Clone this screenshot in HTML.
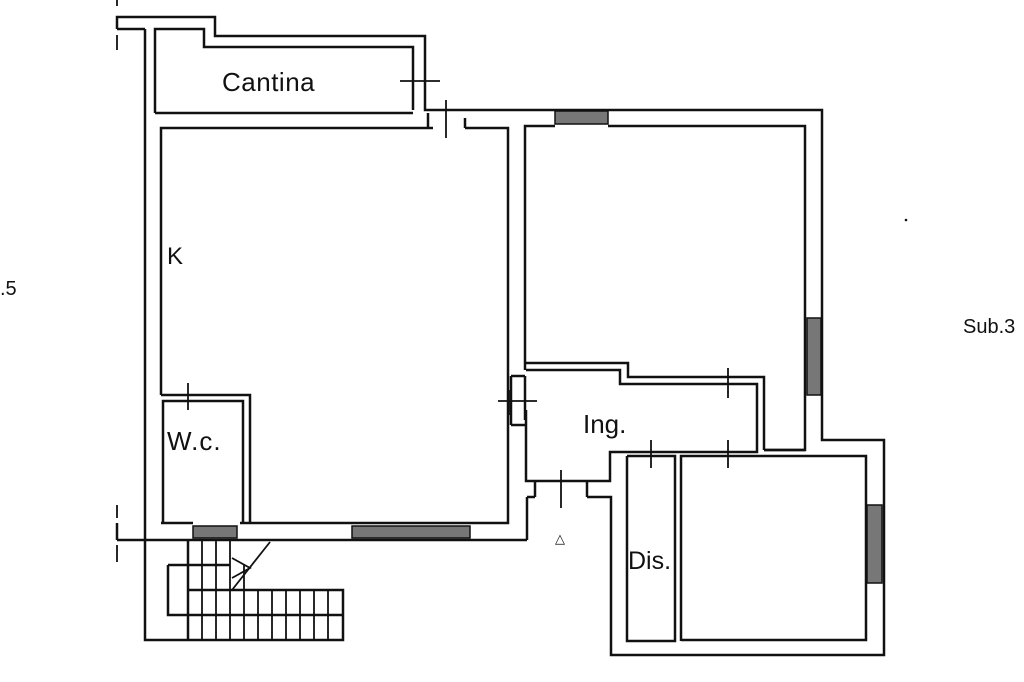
<!DOCTYPE html>
<html><head><meta charset="utf-8"><style>
html,body{margin:0;padding:0;background:#fff;width:1024px;height:682px;overflow:hidden}
svg{display:block}
text{font-family:"Liberation Sans",sans-serif;fill:#111}
</style></head><body>
<svg width="1024" height="682" viewBox="0 0 1024 682">
<g fill="none" stroke="#111" stroke-width="2.5" stroke-linejoin="miter">
<polyline points="117,29 117,17 215,17 215,36 425,36 425,110 822,110 822,398 822,440 884,440 884,655 611,655 611,497 587,497"/>
<polyline points="145,29 117,29"/>
<polyline points="155,113 155,29 204,29 204,47 413,47 413,110"/>
<line x1="155" y1="113" x2="413" y2="113"/>
<line x1="145" y1="29" x2="145" y2="540"/>
<line x1="117" y1="540" x2="527" y2="540"/>
<line x1="117" y1="523" x2="117" y2="540"/>
<line x1="527" y1="540" x2="527" y2="497"/>
<line x1="527" y1="497" x2="535" y2="497"/>
<polyline points="161,395 161,128 433,128"/>
<polyline points="465,128 508,128 508,523 240,523"/>
<line x1="465" y1="118" x2="465" y2="128"/>
<line x1="428" y1="113" x2="428" y2="128"/>
<polyline points="161,395 250,395 250,523"/>
<polyline points="163,523 163,401 243,401 243,523"/>
<line x1="161" y1="523" x2="193" y2="523"/>
<polyline points="525,370 525,126 555,126"/>
<polyline points="608,126 805,126 805,450 764,450"/>
<line x1="525" y1="376" x2="525" y2="420"/>
<polyline points="525,363 628,363 628,377 764,377 764,450"/>
<polyline points="526,370 620,370 620,384 757,384 757,452 610,452 610,481 526,481 526,410"/>
<line x1="511" y1="376" x2="511" y2="425"/>
<line x1="511" y1="376" x2="525" y2="376"/>
<line x1="511" y1="425" x2="525" y2="425"/>
<line x1="535" y1="481" x2="535" y2="497"/>
<line x1="587" y1="481" x2="587" y2="497"/>
<polyline points="681,641 681,456 866,456 866,640 681,640"/>
<polyline points="627,456 675,456 675,641 627,641 627,456"/>
<line x1="764" y1="450" x2="805" y2="450"/>
<polyline points="145,540 145,640 343,640 343,590 188,590"/>
<polyline points="188,540 188,640"/>
<polyline points="168,565 168,615 343,615"/>
<line x1="168" y1="565" x2="230" y2="565"/>
</g>
<g stroke="#111" stroke-width="1.8">
<line x1="202" y1="540" x2="202" y2="640"/><line x1="216" y1="540" x2="216" y2="640"/>
<line x1="230" y1="540" x2="230" y2="640"/><line x1="244" y1="565" x2="244" y2="640"/>
<line x1="258" y1="590" x2="258" y2="640"/><line x1="272" y1="590" x2="272" y2="640"/>
<line x1="286" y1="590" x2="286" y2="640"/><line x1="300" y1="590" x2="300" y2="640"/>
<line x1="314" y1="590" x2="314" y2="640"/><line x1="328" y1="590" x2="328" y2="640"/>
<line x1="270" y1="542" x2="232" y2="590"/>
<polyline points="232,558 250,568 232,578" fill="none"/>
<line x1="400" y1="81" x2="440" y2="81"/><line x1="413" y1="66" x2="413" y2="105"/>
<line x1="446" y1="100" x2="446" y2="138"/>
<line x1="188" y1="383" x2="188" y2="410"/>
<line x1="498" y1="401" x2="537" y2="401"/><line x1="509" y1="390" x2="509" y2="415"/>
<line x1="728" y1="368" x2="728" y2="398"/>
<line x1="728" y1="440" x2="728" y2="468"/>
<line x1="651" y1="440" x2="651" y2="468"/>
<line x1="561" y1="470" x2="561" y2="508"/>
<line x1="117" y1="0" x2="117" y2="6"/><line x1="117" y1="35" x2="117" y2="50"/>
<line x1="117" y1="505" x2="117" y2="518"/><line x1="117" y1="545" x2="117" y2="562"/>
</g>
<g fill="#777" stroke="#111" stroke-width="1.5">
<rect x="555" y="111" width="53" height="13"/>
<rect x="807" y="318" width="14" height="77"/>
<rect x="867" y="505" width="15" height="78"/>
<rect x="193" y="526" width="44" height="12"/>
<rect x="352" y="526" width="118" height="12"/>
</g>
<text x="222" y="91" font-size="26" letter-spacing="0.5">Cantina</text>
<text x="167" y="264" font-size="24">K</text>
<text x="167" y="450" font-size="26" letter-spacing="1">W.c.</text>
<text x="583" y="433" font-size="26">Ing.</text>
<text x="628" y="569" font-size="25">Dis.</text>
<text x="963" y="333" font-size="20">Sub.3</text>
<text x="0" y="295" font-size="20">.5</text>
<text x="555" y="543" font-size="13">△</text>
<circle cx="906" cy="220" r="1.3" fill="#111"/>
</svg>
</body></html>
